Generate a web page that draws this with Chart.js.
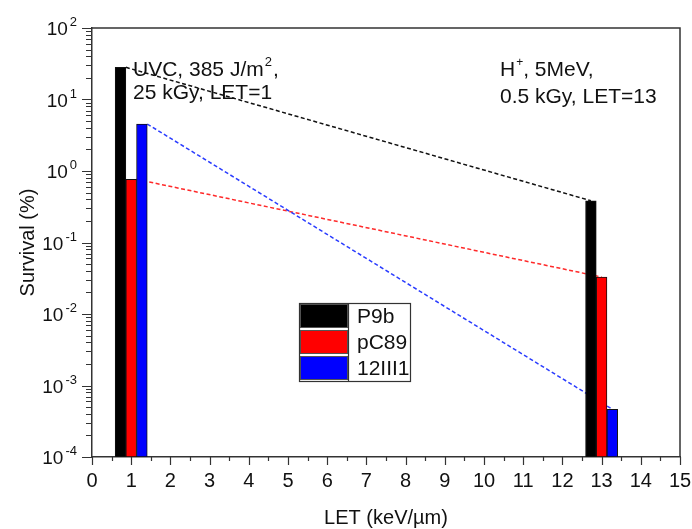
<!DOCTYPE html>
<html>
<head>
<meta charset="utf-8">
<script src="https://cdn.jsdelivr.net/npm/chart.js@4.4.0/dist/chart.umd.min.js"></script>
<style>
  html, body { margin:0; padding:0; background:#fff; }
  #wrap { width:692px; height:529px; }
</style>
</head>
<body>
<div id="wrap"><canvas id="chartLet"></canvas></div>
<script>
// LET values (keV/um) and survival (%)
const letValues = [1, 13];
const seriesNames = ['P9b', 'pC89', '12III1'];
const survP9b = [28.2, 0.384];
const survPC89 = [0.765, 0.0329];
const survIII1 = [4.54, 0.000465];
const barColours = ['#000000', '#ff0000', '#0000ff'];
const lineColours = ['#111111', '#ff2a2a', '#2a3cff'];
const yMin = 1e-4, yMax = 100;

const FONT = '"Liberation Sans", Arial, Helvetica, sans-serif';
const allSurv = [survP9b, survPC89, survIII1];

const datasets = allSurv.map((vals, i) => ({
  label: seriesNames[i],
  data: vals.map((v, j) => ({ x: letValues[j], y: [yMin, v] })),
  backgroundColor: barColours[i],
  borderColor: '#111',
  borderWidth: 1,
  borderSkipped: false,
  barThickness: 10.7
}));

const decor = {
  id: 'decor',
  beforeDatasetsDraw(chart){
    // dashed connectors between bar tops, drawn under the bars
    const ctx = chart.ctx;
    ctx.save();
    ctx.lineWidth = 1.5;
    ctx.setLineDash([4,2.5]);
    allSurv.forEach((_, i)=>{
      const bars = chart.getDatasetMeta(i).data;
      const a = bars[0], b = bars[1];
      ctx.strokeStyle = lineColours[i];
      ctx.beginPath();
      ctx.moveTo(a.x + a.width/2, a.y);
      ctx.lineTo(b.x, b.y);
      ctx.stroke();
    });
    ctx.restore();
  },
  afterDraw(chart){
    const ctx = chart.ctx;
    const {left, right, top, bottom} = chart.chartArea;
    const xs = chart.scales.x, ys = chart.scales.y;
    ctx.save();
    // frame top + right
    ctx.strokeStyle = '#333';
    ctx.lineWidth = 1.5;
    ctx.beginPath();
    ctx.moveTo(left, top); ctx.lineTo(right, top); ctx.lineTo(right, bottom);
    ctx.stroke();

    // tick marks
    ctx.lineWidth = 1.2;
    ctx.beginPath();
    for(let v=xs.min; v<=xs.max; v+=0.5){
      const px = Math.round(xs.getPixelForValue(v)) + 0.5;
      const len = Number.isInteger(v) ? 8 : 4;
      ctx.moveTo(px, bottom); ctx.lineTo(px, bottom + len);
    }
    for(let e=-4; e<=2; e++){
      const py = Math.round(ys.getPixelForValue(10**e)) + 0.5;
      ctx.moveTo(left, py); ctx.lineTo(left - 10, py);
      if(e<2){
        for(let m=2; m<=9; m++){
          const pm = Math.round(ys.getPixelForValue(m*10**e)) + 0.5;
          ctx.moveTo(left, pm); ctx.lineTo(left - 6, pm);
        }
      }
    }
    ctx.stroke();

    // y labels 10^n
    ctx.fillStyle = '#111';
    ys.ticks.forEach(t=>{
      const e = Math.round(Math.log10(t.value));
      const py = ys.getPixelForValue(t.value);
      const expTxt = String(e);
      ctx.font = `13px ${FONT}`;
      const wExp = ctx.measureText(expTxt).width;
      ctx.textAlign = 'left';
      ctx.textBaseline = 'alphabetic';
      const expX = 77 - wExp;
      ctx.fillText(expTxt, expX, py - 2);
      ctx.font = `19px ${FONT}`;
      ctx.textAlign = 'right';
      ctx.fillText('10', expX - 2, py + 7);
    });

    // annotations
    ctx.textAlign = 'left';
    ctx.textBaseline = 'alphabetic';
    ctx.font = `21px ${FONT}`;
    let t1 = 'UVC, 385 J/m';
    ctx.fillText(t1, 133, 76);
    let w = ctx.measureText(t1).width;
    ctx.font = `13px ${FONT}`;
    ctx.fillText('2', 133 + w + 1, 66);
    const w2 = ctx.measureText('2').width;
    ctx.font = `21px ${FONT}`;
    ctx.fillText(',', 133 + w + w2 + 2, 76);
    ctx.fillText('25 kGy, LET=1', 133, 99);

    ctx.fillText('H', 500, 76);
    w = ctx.measureText('H').width;
    ctx.font = `12px ${FONT}`;
    ctx.fillText('+', 500 + w + 1, 66);
    const wp = ctx.measureText('+').width;
    ctx.font = `21px ${FONT}`;
    ctx.fillText(', 5MeV,', 500 + w + wp + 1, 76);
    ctx.fillText('0.5 kGy, LET=13', 500, 103);

    // legend box
    const lx = 299, ly = 303, lw = 111, rowH = 26, swW = 49;
    ctx.fillStyle = '#fff';
    ctx.fillRect(lx, ly, lw, rowH*3);
    seriesNames.forEach((name, i)=>{
      const ry = ly + i*rowH;
      ctx.fillStyle = barColours[i];
      ctx.fillRect(lx + 1, ry + 1.5, swW - 1, rowH - 3);
      ctx.strokeStyle = '#555';
      ctx.lineWidth = 1;
      ctx.strokeRect(lx + 1.5, ry + 1.5, swW - 2, rowH - 3);
      ctx.fillStyle = '#111';
      ctx.font = `21px ${FONT}`;
      ctx.textBaseline = 'middle';
      ctx.fillText(name, lx + 58, ry + rowH/2 + 1);
    });
    ctx.strokeStyle = '#333';
    ctx.lineWidth = 1.2;
    ctx.strokeRect(lx + 0.5, ly + 0.5, lw, rowH*3);
    ctx.beginPath();
    ctx.moveTo(lx + swW + 0.5, ly); ctx.lineTo(lx + swW + 0.5, ly + rowH*3);
    ctx.stroke();
    ctx.restore();
  }
};

new Chart(document.getElementById('chartLet'), {
  type: 'bar',
  data: { datasets },
  options: {
    responsive: true,
    maintainAspectRatio: false,
    animation: false,
    layout: { padding: { top: 28, right: 0, left: 0, bottom: 0 } },
    plugins: { legend: { display: false }, tooltip: { enabled: false } },
    scales: {
      x: {
        type: 'linear',
        offset: false,
        min: 0, max: 15,
        afterFit: (s)=>{ s.height = 72; s.paddingLeft = 0; s.paddingRight = 12; },
        ticks: { stepSize: 1, color: '#111', padding: 12, font: { family: FONT, size: 20 } },
        grid: { display: false, drawTicks: false, offset: false },
        border: { display: true, color: '#333', width: 1.5 },
        title: { display: true, text: 'LET (keV/\u00B5m)', color: '#111', padding: { top: 0, bottom: 0 },
                 font: { family: FONT, size: 20, lineHeight: 1.1 } }
      },
      y: {
        type: 'logarithmic',
        min: yMin, max: yMax,
        afterFit: (s)=>{ s.width = 92; },
        afterBuildTicks: (s)=>{
          const t = [];
          for(let e=-4; e<=2; e++) t.push({ value: 10**e, major: true });
          s.ticks = t;
        },
        ticks: { display: false },
        grid: { display: false, drawTicks: false },
        border: { display: true, color: '#333', width: 1.5 },
        title: { display: true, text: 'Survival (%)', color: '#111', padding: { top: 16, bottom: 0 },
                 font: { family: FONT, size: 20, lineHeight: 1.2 } }
      }
    }
  },
  plugins: [decor]
});
</script>
</body>
</html>
